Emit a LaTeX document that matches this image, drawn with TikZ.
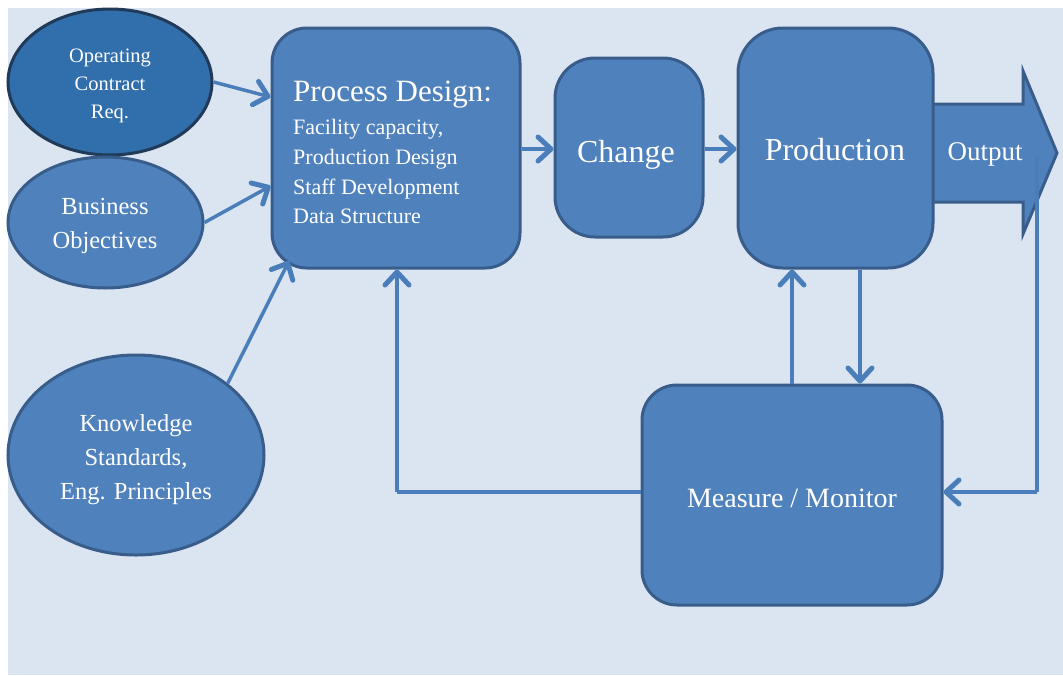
\documentclass[tikz,border=0pt]{standalone}
\usepackage{fontspec}
\setmainfont{Liberation Serif}
\usetikzlibrary{arrows.meta,shapes.geometric,calc}
\definecolor{bgc}{HTML}{DBE5F1}
\definecolor{boxfill}{HTML}{4F81BD}
\definecolor{boxline}{HTML}{385D8A}
\definecolor{darkfill}{RGB}{48,110,172}
\definecolor{darkline}{RGB}{32,58,88}
\definecolor{conncol}{HTML}{4A7EBB}
\tikzset{
  x=1pt,y=-1pt,
  ell/.style={ellipse,draw=boxline,fill=boxfill,line width=3pt,inner sep=0pt},
  rbox/.style={rectangle,draw=boxline,fill=boxfill,line width=3pt,inner sep=0pt},
  conn/.style={draw=conncol,line width=3.5pt,-{Straight Barb[length=13pt,width=24pt,line width=5pt,round]}},
  plainconn/.style={draw=conncol,line width=3.5pt},
  lbl/.style={text=white,inner sep=0pt,align=center}
}
\begin{document}
\begin{tikzpicture}
\useasboundingbox (0,0) rectangle (1063,675);
\fill[white] (0,0) rectangle (1063,675);
\fill[bgc] (8,8) rectangle (1063,675);

% ellipses
\node[ell,draw=darkline,fill=darkfill,minimum width=204pt,minimum height=146pt] (e1) at (110,82) {};
\node[lbl,font=\fontsize{20.5}{28}\selectfont] (e1t) at (110,86) {Operating\\Contract\\Req.};
\node[ell,minimum width=195pt,minimum height=131pt] (e2) at (105.5,222.5) {};
\node[lbl,font=\fontsize{24.5}{34}\selectfont] (e2t) at (105,225.5) {Business\\Objectives};
\node[ell,minimum width=256pt,minimum height=200pt] (e3) at (136,455) {};
\node[lbl,font=\fontsize{24.5}{34}\selectfont] (e3t) at (136,460) {Knowledge\\Standards,\\Eng. Principles};

% output arrow (behind production)
\path[draw=boxline,fill=boxfill,line width=3pt,line join=miter]
  (925,104) -- (1023,104) -- (1023,71) -- (1057,153) -- (1023,234) -- (1023,202) -- (925,202) -- cycle;
\node[lbl,font=\fontsize{27}{30}\selectfont] (out) at (985,154) {Output};

% boxes
\node[rbox,rounded corners=35pt,minimum width=248pt,minimum height=240pt] (pd) at (396,148) {};
\node[lbl,anchor=base west,font=\fontsize{31}{34}\selectfont] (pdt) at (293,101) {Process Design:};
\node[lbl,anchor=base west,font=\fontsize{22}{30}\selectfont] (pd1) at (293,134) {Facility capacity,};
\node[lbl,anchor=base west,font=\fontsize{22}{30}\selectfont] (pd2) at (293,164) {Production Design};
\node[lbl,anchor=base west,font=\fontsize{22}{30}\selectfont] (pd3) at (293,194) {Staff Development};
\node[lbl,anchor=base west,font=\fontsize{22}{30}\selectfont] (pd4) at (293,223) {Data Structure};

\node[rbox,rounded corners=40pt,minimum width=148pt,minimum height=179pt] (ch) at (629,147.5) {};
\node[lbl,font=\fontsize{32}{36}\selectfont] (cht) at (626,155) {Change};

\node[rbox,rounded corners=45pt,minimum width=195pt,minimum height=240pt] (pr) at (835.5,148) {};
\node[lbl,font=\fontsize{32}{36}\selectfont] (prt) at (835,150) {Production};

\node[rbox,rounded corners=35pt,minimum width=300pt,minimum height=220pt] (mm) at (792,495) {};
\node[lbl,font=\fontsize{28}{32}\selectfont] (mmt) at (792,498) {Measure / Monitor};

% connectors
\draw[conn] (e1.east) -- (pd.west |- 0,97);
\draw[conn] (e2.east) -- (pd.west |- 0,186);
\draw[conn] (e3.38) -- (289,261);
\draw[conn] (pd.east |- 0,149) -- (ch.west |- 0,149);
\draw[conn] (ch.east |- 0,149) -- (pr.west |- 0,149);
\draw[conn] (860,0 |- pr.south) -- (860,0 |- mm.north);
\draw[conn] (792,0 |- mm.north) -- (792,0 |- pr.south);
\coordinate (otap) at (1037,156);
\coordinate (ocorner) at (1037,492);
\draw[plainconn] (otap) -- (ocorner);
\draw[conn] (ocorner) -- (mm.east |- ocorner);
\coordinate (lcorner) at (397,492);
\draw[plainconn] (mm.west |- lcorner) -- (lcorner);
\draw[conn] (lcorner) -- (lcorner |- pd.south);
\end{tikzpicture}
\end{document}
